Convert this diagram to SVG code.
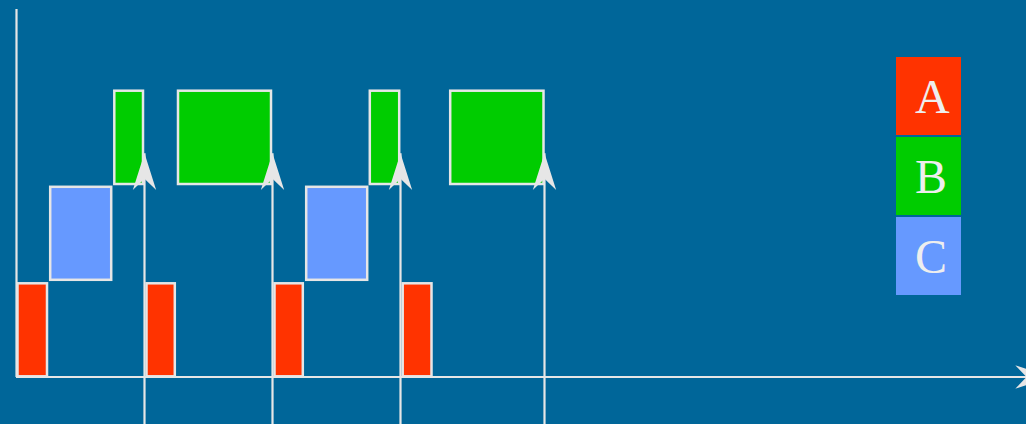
<svg xmlns="http://www.w3.org/2000/svg" width="1026" height="424" viewBox="0 0 1026 424">
<style>
.bar{stroke:#e6e6e6;stroke-width:2.5}
.a{fill:#ff3300}.b{fill:#00cc00}.c{fill:#6699ff}
.ln{stroke:#e6e6e6;stroke-width:2.2;fill:none}
.lg{font-family:"Liberation Serif","Times New Roman",serif;font-size:48px;fill:#eeeeee}
</style>
<defs>
<marker id="ah" markerUnits="userSpaceOnUse" markerWidth="40" markerHeight="30" viewBox="-34 -12 36 24" refX="0" refY="0" orient="auto">
<path d="M0,0 L-33,-10.5 L-23,0 L-33,10.5 Z" fill="#e6e6e6"/>
</marker>
</defs>
<rect width="1026" height="424" fill="#006699"/>
<g id="axes">
<line class="ln" x1="16.5" y1="9" x2="16.5" y2="377"/>
<line class="ln" x1="16" y1="377" x2="1052" y2="377" marker-end="url(#ah)"/>
</g>
<g id="bars">
<rect id="a1" class="bar a" x="17.5" y="283.3" width="29.5" height="93"/>
<rect id="c1" class="bar c" x="50.2" y="186.8" width="61" height="93"/>
<rect id="b1" class="bar b" x="114.3" y="90.7" width="28.7" height="93.3"/>
<rect id="a2" class="bar a" x="146.5" y="283.3" width="28.3" height="93"/>
<rect id="b2" class="bar b" x="178" y="90.7" width="93" height="93.3"/>
<rect id="a3" class="bar a" x="274.5" y="283.3" width="28.3" height="93"/>
<rect id="c2" class="bar c" x="306.2" y="186.8" width="61" height="93"/>
<rect id="b3" class="bar b" x="369.8" y="90.7" width="29.4" height="93.3"/>
<rect id="a4" class="bar a" x="402.7" y="283.3" width="28.8" height="93"/>
<rect id="b4" class="bar b" x="450.2" y="90.7" width="93.3" height="93.3"/>
</g>
<g id="connectors">
<line class="ln" x1="144.5" y1="430" x2="144.5" y2="153.3" marker-end="url(#ah)"/>
<line class="ln" x1="272.5" y1="430" x2="272.5" y2="153.3" marker-end="url(#ah)"/>
<line class="ln" x1="400.5" y1="430" x2="400.5" y2="153.3" marker-end="url(#ah)"/>
<line class="ln" x1="544.5" y1="430" x2="544.5" y2="153.3" marker-end="url(#ah)"/>
</g>
<g id="legend-A">
<rect class="a" x="896" y="57" width="65" height="78"/>
<text class="lg" x="915" y="113">A</text>
</g>
<g id="legend-B">
<rect class="b" x="896" y="137" width="65" height="78"/>
<text class="lg" x="915" y="193">B</text>
</g>
<g id="legend-C">
<rect class="c" x="896" y="217" width="65" height="78"/>
<text class="lg" x="915" y="273">C</text>
</g>
</svg>
